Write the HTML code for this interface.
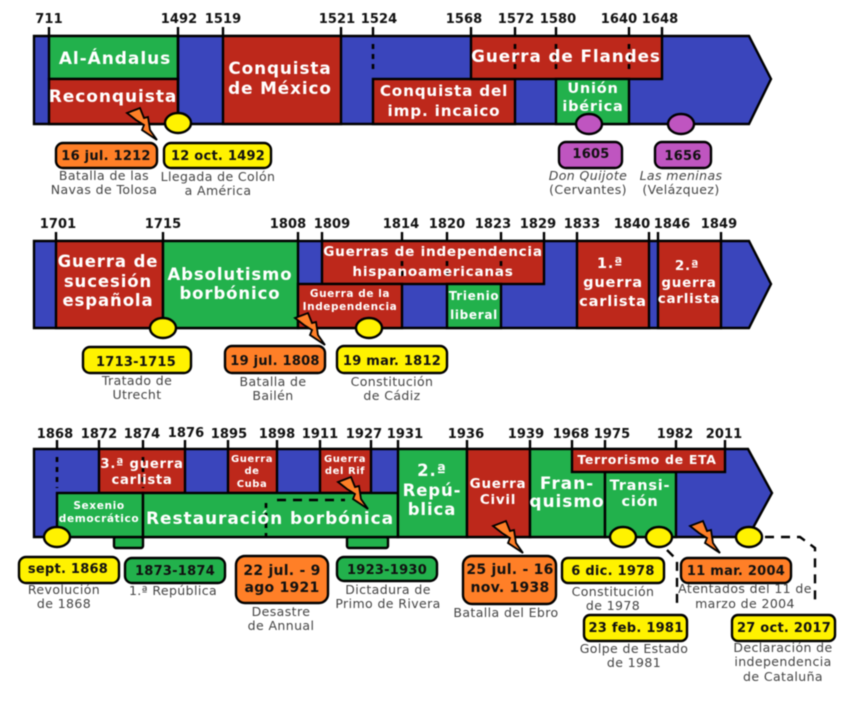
<!DOCTYPE html>
<html lang="es"><head><meta charset="utf-8"><title>Cronología</title>
<style>
html,body{margin:0;padding:0;background:#fff}
svg{display:block;filter:blur(.55px)}
text{font-family:"DejaVu Sans","Liberation Sans",sans-serif;text-anchor:middle}
.y{font-weight:700;font-size:13px;fill:#111;letter-spacing:.1px}
.w{font-weight:700;fill:#fff;letter-spacing:.055em}
.k{font-weight:700;font-size:13px;fill:#111;letter-spacing:.25px}
.g{font-size:12.5px;fill:#444;letter-spacing:.4px}
.i{font-style:italic}
.b{stroke:#000;stroke-width:2.4;fill:#3a45bc;stroke-linejoin:miter}
.r{fill:#bd281b;stroke:#000;stroke-width:2.4}
.n{fill:#22b14c;stroke:#000;stroke-width:2.4}
.c{stroke:#000;stroke-width:2.4}
.yl{fill:#fff200}.or{fill:#ff7f27}.pu{fill:#bf55c0}.gr{fill:#22b14c}
.t{stroke:#000;stroke-width:2.4;fill:none}
.d{stroke:#000;stroke-width:2.6;fill:none;stroke-dasharray:5 5}
.d2{stroke:#000;stroke-width:2.4;fill:none;stroke-dasharray:9 7}
.l{fill:#ff7f27;stroke:#000;stroke-width:1.8;stroke-linejoin:miter}
</style></head><body>
<svg width="848" height="707" viewBox="0 0 848 707" xmlns="http://www.w3.org/2000/svg">
<rect width="848" height="707" fill="#fff"/>

<!-- ROW 1 -->
<path class="b" d="M34 36H749L771 79L749 124H34Z"/>
<rect class="n" x="49" y="36" width="129" height="43"/>
<rect class="r" x="49" y="79" width="129" height="45"/>
<rect class="r" x="223" y="36" width="118" height="88"/>
<rect class="r" x="373" y="79" width="142" height="45"/>
<rect class="r" x="471" y="36" width="191" height="43"/>
<rect class="n" x="556" y="79" width="73" height="45"/>
<path class="t" d="M49 27V36M178 27V124M223 27V36M341 27V36M373 27V36M471 27V36M515 27V36M556 27V36M629 27V36M662 27V36"/>
<path class="d" d="M373 44V74M515 44V74M556 44V74M629 44V74"/>
<text class="y" x="49" y="23">711</text><text class="y" x="179" y="23">1492</text><text class="y" x="223" y="23">1519</text><text class="y" x="337" y="23">1521</text><text class="y" x="379" y="23">1524</text><text class="y" x="464" y="23">1568</text><text class="y" x="516" y="23">1572</text><text class="y" x="558" y="23">1580</text><text class="y" x="619" y="23">1640</text><text class="y" x="660" y="23">1648</text>
<text class="w" font-size="17" x="115" y="64">Al-Ándalus</text>
<text class="w" font-size="17" x="113" y="102">Reconquista</text>
<text class="w" font-size="16.8" x="280" y="74">Conquista</text>
<text class="w" font-size="16.8" x="280" y="94">de México</text>
<text class="w" font-size="15.2" x="444" y="96">Conquista del</text>
<text class="w" font-size="15.2" x="444" y="116">imp. incaico</text>
<text class="w" font-size="16.8" x="566" y="62">Guerra de Flandes</text>
<text class="w" font-size="14.5" x="593" y="93">Unión</text>
<text class="w" font-size="14.5" x="593" y="111">ibérica</text>
<ellipse class="c yl" cx="178" cy="123" rx="13" ry="10"/>
<ellipse class="c pu" cx="589" cy="124" rx="13" ry="10"/>
<ellipse class="c pu" cx="681" cy="124" rx="13" ry="10"/>
<path class="l" d="M127 113L140 108L144 118L148 117L150 130L157 140L142 130L144 125L136 120Z"/>
<rect class="c or" x="56" y="143" width="101" height="25" rx="7"/>
<rect class="c yl" x="164" y="143" width="107" height="25" rx="7"/>
<rect class="c pu" x="559" y="142" width="63" height="26" rx="7"/>
<rect class="c pu" x="655" y="142" width="56" height="26" rx="7"/>
<text class="k" x="106" y="160">16 jul. 1212</text>
<text class="k" x="218" y="160">12 oct. 1492</text>
<text class="k" x="591" y="158">1605</text>
<text class="k" x="683" y="160">1656</text>
<text class="g" x="104" y="180">Batalla de las</text><text class="g" x="104" y="194">Navas de Tolosa</text>
<text class="g" x="218" y="181">Llegada de Colón</text><text class="g" x="218" y="195">a América</text>
<text class="g i" x="588" y="180">Don Quijote</text><text class="g" x="588" y="194">(Cervantes)</text>
<text class="g i" x="681" y="180">Las meninas</text><text class="g" x="681" y="194">(Velázquez)</text>

<!-- ROW 2 -->
<path class="b" d="M34 241H749L771 284L749 328H34Z"/>
<rect class="r" x="56" y="241" width="107" height="87"/>
<rect class="n" x="163" y="241" width="135" height="87"/>
<rect class="r" x="322" y="241" width="222" height="43"/>
<rect class="r" x="298" y="284" width="104" height="44"/>
<rect class="n" x="447" y="284" width="54" height="44"/>
<rect class="r" x="577" y="241" width="72" height="87"/>
<rect class="r" x="658" y="241" width="63" height="87"/>
<path class="t" d="M56 232V241M163 232V241M298 232V241M322 232V241M402 232V241M447 232V241M501 232V241M544 232V241M577 232V241M649 232V241M658 232V241M721 232V241"/>
<path class="d" d="M402 261V278M447 261V278M501 261V278"/>
<text class="y" x="58" y="228">1701</text><text class="y" x="163" y="228">1715</text><text class="y" x="288" y="228">1808</text><text class="y" x="332" y="228">1809</text><text class="y" x="401" y="228">1814</text><text class="y" x="447" y="228">1820</text><text class="y" x="493" y="228">1823</text><text class="y" x="538" y="228">1829</text><text class="y" x="582" y="228">1833</text><text class="y" x="632" y="228">1840</text><text class="y" x="672" y="228">1846</text><text class="y" x="719" y="228">1849</text>
<text class="w" font-size="16.5" x="108" y="267">Guerra de</text>
<text class="w" font-size="16.5" x="108" y="287">sucesión</text>
<text class="w" font-size="16.5" x="108" y="306">española</text>
<text class="w" font-size="16.5" x="230" y="280">Absolutismo</text>
<text class="w" font-size="16.5" x="230" y="299">borbónico</text>
<text class="w" font-size="13.6" x="433" y="256">Guerras de independencia</text>
<text class="w" font-size="13.6" x="433" y="276">hispanoamericanas</text>
<text class="w" font-size="10.5" x="350" y="297">Guerra de la</text>
<text class="w" font-size="10.5" x="350" y="310">Independencia</text>
<text class="w" font-size="12" x="474" y="300">Trienio</text>
<text class="w" font-size="12" x="474" y="319">liberal</text>
<text class="w" font-size="14.6" x="610" y="268">1.ª</text>
<text class="w" font-size="14.6" x="613" y="287">guerra</text>
<text class="w" font-size="14.6" x="613" y="306">carlista</text>
<text class="w" font-size="13.5" x="687" y="270">2.ª</text>
<text class="w" font-size="13.5" x="689" y="287">guerra</text>
<text class="w" font-size="13.5" x="689" y="303">carlista</text>
<ellipse class="c yl" cx="163" cy="328" rx="13" ry="10"/>
<ellipse class="c yl" cx="369" cy="328" rx="13" ry="10"/>
<path class="l" d="M295 318L308 313L312 323L316 322L318 335L325 345L310 335L312 330L304 325Z"/>
<rect class="c yl" x="83" y="347" width="108" height="26" rx="7"/>
<rect class="c or" x="225" y="346" width="100" height="27" rx="7"/>
<rect class="c yl" x="337" y="346" width="110" height="27" rx="7"/>
<text class="k" x="136" y="366">1713-1715</text>
<text class="k" x="275" y="365">19 jul. 1808</text>
<text class="k" x="392" y="365">19 mar. 1812</text>
<text class="g" x="137" y="385">Tratado de</text><text class="g" x="137" y="399">Utrecht</text>
<text class="g" x="273" y="386">Batalla de</text><text class="g" x="273" y="400">Bailén</text>
<text class="g" x="392" y="386">Constitución</text><text class="g" x="392" y="400">de Cádiz</text>

<!-- ROW 3 -->
<path class="b" d="M34 449H748L772 493L748 537H34Z"/>
<rect class="n" x="114" y="537" width="29" height="11" rx="2"/>
<rect class="n" x="347" y="537" width="41" height="11" rx="2"/>
<rect class="r" x="99" y="449" width="86" height="44"/>
<rect class="r" x="228" y="449" width="49" height="44"/>
<rect class="r" x="320" y="449" width="51" height="44"/>
<rect class="n" x="57" y="493" width="86" height="44"/>
<rect class="n" x="143" y="493" width="255" height="44"/>
<rect class="n" x="398" y="449" width="69" height="88"/>
<rect class="r" x="467" y="449" width="63" height="88"/>
<rect class="n" x="530" y="449" width="75" height="88"/>
<rect class="n" x="605" y="472" width="71" height="65"/>
<rect class="r" x="572" y="449" width="153" height="23"/>
<path class="t" d="M57 440V449M99 440V449M143 440V449M185 440V449M228 440V449M277 440V449M320 440V449M371 440V449M398 440V449M467 440V449M530 440V449M572 440V449M605 440V449M676 440V449M725 440V449"/>
<path class="d" d="M57 457V488M143 457V488M266 503V543"/>
<path class="d2" d="M277 500H345"/>
<path class="d2" d="M765 537H800L815 548V603"/>
<path class="d2" d="M667 550L677 560V607"/>
<text class="y" x="55" y="438">1868</text><text class="y" x="99" y="438">1872</text><text class="y" x="142" y="438">1874</text><text class="y" x="186" y="437">1876</text><text class="y" x="229" y="438">1895</text><text class="y" x="277" y="438">1898</text><text class="y" x="320" y="438">1911</text><text class="y" x="364" y="438">1927</text><text class="y" x="405" y="438">1931</text><text class="y" x="466" y="438">1936</text><text class="y" x="526" y="438">1939</text><text class="y" x="571" y="438">1968</text><text class="y" x="612" y="438">1975</text><text class="y" x="675" y="438">1982</text><text class="y" x="724" y="438">2011</text>
<text class="w" font-size="13.2" x="142" y="468">3.ª guerra</text>
<text class="w" font-size="13.2" x="142" y="484">carlista</text>
<text class="w" font-size="10" x="252" y="462">Guerra</text>
<text class="w" font-size="10" x="252" y="474">de</text>
<text class="w" font-size="10" x="252" y="487">Cuba</text>
<text class="w" font-size="10" x="345" y="462">Guerra</text>
<text class="w" font-size="10" x="345" y="474">del Rif</text>
<text class="w" font-size="10.6" x="99" y="509">Sexenio</text>
<text class="w" font-size="10.6" x="99" y="522">democrático</text>
<text class="w" font-size="17" x="270" y="524">Restauración borbónica</text>
<text class="w" font-size="16.5" x="432" y="476">2.ª</text>
<text class="w" font-size="16.5" x="432" y="496">Repú-</text>
<text class="w" font-size="16.5" x="432" y="515">blica</text>
<text class="w" font-size="13.5" x="498" y="488">Guerra</text>
<text class="w" font-size="13.5" x="498" y="504">Civil</text>
<text class="w" font-size="17" x="567" y="489">Fran-</text>
<text class="w" font-size="17" x="567" y="507">quismo</text>
<text class="w" font-size="14.5" x="640" y="490">Transi-</text>
<text class="w" font-size="14.5" x="640" y="506">ción</text>
<text class="w" font-size="12.5" x="647" y="464">Terrorismo de ETA</text>
<ellipse class="c yl" cx="57" cy="537" rx="13" ry="10"/>
<ellipse class="c yl" cx="623" cy="537" rx="13" ry="10"/>
<ellipse class="c yl" cx="659" cy="537" rx="13" ry="10"/>
<ellipse class="c yl" cx="749" cy="537" rx="13" ry="10"/>
<path class="l" d="M338 482L351 477L355 487L359 486L361 499L368 509L353 499L355 494L347 489Z"/>
<path class="l" d="M493 526L506 521L510 531L514 530L516 543L523 553L508 543L510 538L502 533Z"/>
<path class="l" d="M690 526L703 521L707 531L711 530L713 543L720 553L705 543L707 538L699 533Z"/>
<rect class="c yl" x="19" y="557" width="100" height="26" rx="7"/>
<rect class="c gr" x="125" y="558" width="100" height="25" rx="7"/>
<rect class="c or" x="236" y="556" width="92" height="47" rx="9"/>
<rect class="c gr" x="337" y="557" width="100" height="24" rx="7"/>
<rect class="c or" x="463" y="556" width="93" height="48" rx="9"/>
<rect class="c yl" x="562" y="558" width="102" height="25" rx="6"/>
<rect class="c yl" x="584" y="615" width="103" height="26" rx="6"/>
<rect class="c or" x="681" y="558" width="110" height="25" rx="7"/>
<rect class="c yl" x="732" y="615" width="103" height="26" rx="6"/>
<text class="k" x="68" y="573">sept. 1868</text>
<text class="k" x="175" y="575">1873-1874</text>
<text class="k" font-size="14" style="font-size:14px" x="282" y="575">22 jul. - 9</text>
<text class="k" style="font-size:14px" x="282" y="592">ago 1921</text>
<text class="k" x="387" y="574">1923-1930</text>
<text class="k" style="font-size:14px" x="510" y="574">25 jul. - 16</text>
<text class="k" style="font-size:14px" x="510" y="592">nov. 1938</text>
<text class="k" x="613" y="575">6 dic. 1978</text>
<text class="k" x="636" y="632">23 feb. 1981</text>
<text class="k" x="736" y="575">11 mar. 2004</text>
<text class="k" x="784" y="632">27 oct. 2017</text>
<text class="g" x="64" y="594">Revolución</text><text class="g" x="64" y="608">de 1868</text>
<text class="g" x="173" y="595">1.ª República</text>
<text class="g" x="281" y="616">Desastre</text><text class="g" x="281" y="630">de Annual</text>
<text class="g" x="388" y="594">Dictadura de</text><text class="g" x="388" y="608">Primo de Rivera</text>
<text class="g" x="506" y="617">Batalla del Ebro</text>
<text class="g" x="613" y="596">Constitución</text><text class="g" x="613" y="610">de 1978</text>
<text class="g" x="745" y="593">Atentados del 11 de</text><text class="g" x="745" y="608">marzo de 2004</text>
<text class="g" x="634" y="653">Golpe de Estado</text><text class="g" x="634" y="667">de 1981</text>
<text class="g" x="783" y="652">Declaración de</text><text class="g" x="783" y="666">independencia</text><text class="g" x="783" y="681">de Cataluña</text>
</svg>
</body></html>
